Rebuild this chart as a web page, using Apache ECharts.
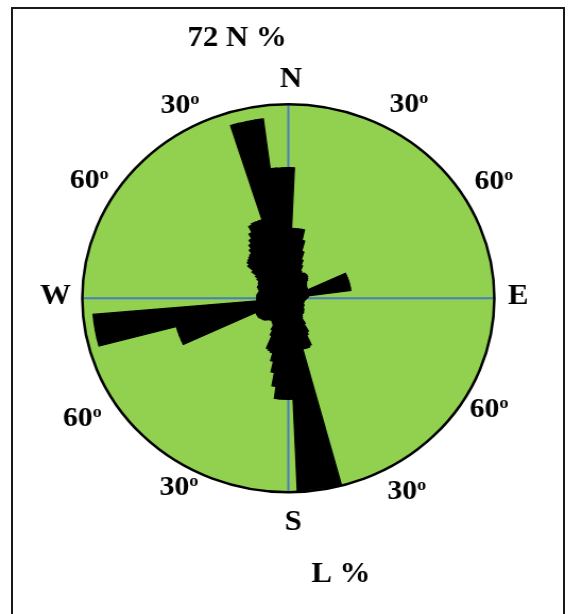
<!DOCTYPE html>
<html>
<head>
<meta charset="utf-8">
<script src="https://cdn.jsdelivr.net/npm/echarts@6/dist/echarts.min.js"></script>
<style>
html,body{margin:0;padding:0;background:#fff;width:572px;height:614px;overflow:hidden;}
#frame{position:absolute;left:11px;top:7px;width:554px;height:640px;border:2px solid #1a1a1a;box-sizing:border-box;}
#chart{position:absolute;left:0;top:0;width:539px;height:614px;transform:scaleX(1.062);transform-origin:0 0;}
</style>
</head>
<body>
<div id="frame"></div>
<div id="chart"></div>
<script>
// 2.5-degree direction bins, labelled by their start (compass degrees, clockwise from North)
const directions = ['0','2.5','5','7.5','10','12.5','15','17.5','20','22.5','25','27.5','30','32.5','35','37.5','40','42.5','45','47.5','50','52.5','55','57.5','60','62.5','65','67.5','70','72.5','75','77.5','80','82.5','85','87.5','90','92.5','95','97.5','100','102.5','105','107.5','110','112.5','115','117.5','120','122.5','125','127.5','130','132.5','135','137.5','140','142.5','145','147.5','150','152.5','155','157.5','160','162.5','165','167.5','170','172.5','175','177.5','180','182.5','185','187.5','190','192.5','195','197.5','200','202.5','205','207.5','210','212.5','215','217.5','220','222.5','225','227.5','230','232.5','235','237.5','240','242.5','245','247.5','250','252.5','255','257.5','260','262.5','265','267.5','270','272.5','275','277.5','280','282.5','285','287.5','290','292.5','295','297.5','300','302.5','305','307.5','310','312.5','315','317.5','320','322.5','325','327.5','330','332.5','335','337.5','340','342.5','345','347.5','350','352.5','355','357.5'];
// frequency (%) per bin, scale max 72
const percents = [
  48.5,26,26,26,26,22,18,15,13,11,
  10.5,10.5,10.8,10.8,10.8,10.5,10,9.5,8.6,8.3,
  8,7.8,7.5,7.5,7.5,7.5,22,22,22,22,
  22,22,22,7,6.8,6.5,6.2,6,5.8,5.5,
  5.5,5.5,5.5,5.5,5.5,5.8,6,6,6,6.2,
  6.5,6.8,7,7.2,7.5,7.5,7.5,8,8.6,11,
  14,15,19,19.5,19.5,19.5,71.5,71.5,71.5,71.5,
  71.5,37.5,37.5,37.5,37.5,33,28,24,21,20.5,
  20,15,13,11,10.5,10.2,10,10.2,10.5,11,
  11.5,11.8,12,12.3,12.5,12.5,12.5,12.5,40.5,40.5,
  40.5,40.5,68.5,68.5,68.5,68.5,11,11,11,11,
  11,10.8,10.5,10.5,10.5,11,11.5,11.5,11.5,11.8,
  12,13,14,16,18.5,19.5,20,20.5,21,22.5,
  24,25.5,27.5,30,30.5,30.5,30.5,67.2,67.2,67.2,
  67.2,48.5,48.5,48.5
];
const scaleMax = 72;
const topTitle = '72 N %';
const bottomTitle = 'L %';

const chart = echarts.init(document.getElementById('chart'), null, {renderer: 'canvas'});
const FONT = "'Liberation Serif','Times New Roman',serif";
const cx = 271.5, cy = 298.3, R = 194;

function plain(txt, x, y) {
  return {type: 'text', x: x, y: y, z: 10,
    style: {text: txt, align: 'center', verticalAlign: 'middle', fill: '#000',
      fontSize: 29, fontWeight: 'bold', fontFamily: FONT}};
}
function deg(num, x, y) {
  return {type: 'text', x: x, y: y, z: 10,
    style: {text: '{n|' + num + '}{s|o}', align: 'center', verticalAlign: 'middle', fill: '#000',
      fontSize: 28, fontWeight: 'bold', fontFamily: FONT,
      rich: {
        n: {fontSize: 28, fontWeight: 'bold', fontFamily: FONT, fill: '#000', lineHeight: 30},
        s: {fontSize: 17, fontWeight: 'bold', fontFamily: FONT, fill: '#000', verticalAlign: 'top', lineHeight: 16}
      }}};
}

chart.setOption({
  animation: false,
  backgroundColor: 'transparent',
  polar: [
    {center: [cx, cy], radius: R},
    {center: [cx, cy], radius: R}
  ],
  angleAxis: [
    {polarIndex: 0, type: 'category', data: directions, startAngle: 90, clockwise: true,
      boundaryGap: true, z: 3,
      axisLine: {show: true, lineStyle: {color: '#000', width: 2.5}},
      axisTick: {show: false}, axisLabel: {show: false}, splitLine: {show: false}},
    {polarIndex: 1, type: 'value', min: 0, max: 360, interval: 90, startAngle: 90, clockwise: true, z: 1,
      axisLine: {show: false}, axisTick: {show: false}, axisLabel: {show: false},
      splitLine: {show: true, lineStyle: {color: '#4a7ebb', width: 2}}}
  ],
  radiusAxis: [
    {polarIndex: 0, type: 'value', min: 0, max: scaleMax, interval: scaleMax, z: 0,
      axisLine: {show: false}, axisTick: {show: false}, axisLabel: {show: false},
      splitLine: {show: false},
      splitArea: {show: true, areaStyle: {color: ['#92D050', '#92D050']}}},
    {polarIndex: 1, type: 'value', min: 0, max: scaleMax, show: false}
  ],
  series: [{
    type: 'bar', coordinateSystem: 'polar', polarIndex: 0, data: percents,
    barCategoryGap: '0%', z: 2,
    itemStyle: {color: '#000', borderColor: '#000', borderWidth: 1.2, borderJoin: 'miter'}
  }],
  graphic: [
    plain(topTitle, 223.2, 39),
    plain('N', 274, 80),
    plain('S', 276, 523),
    plain('E', 488, 297),
    plain('W', 52.3, 296.5),
    deg('30', 169.5, 106),
    deg('30', 385, 105),
    deg('60', 84, 181),
    deg('60', 465, 182),
    deg('60', 77.5, 419),
    deg('60', 460.5, 410),
    deg('30', 168.5, 488),
    deg('30', 383, 492),
    plain(bottomTitle, 321, 575)
  ]
});
</script>
</body>
</html>
